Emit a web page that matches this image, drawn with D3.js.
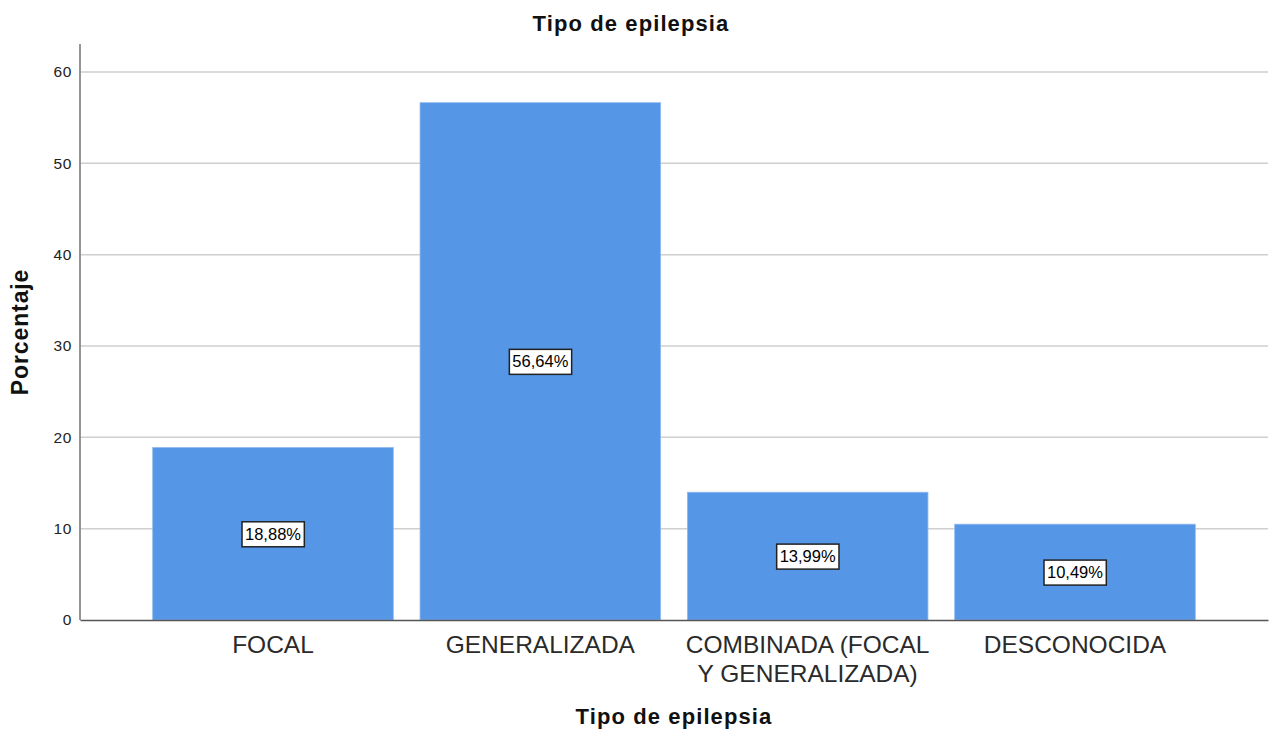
<!DOCTYPE html>
<html><head><meta charset="utf-8">
<script src="https://cdn.jsdelivr.net/npm/d3@7"></script>
<style>body{margin:0;background:#fff}svg{display:block}text{font-family:"Liberation Sans",Arial,sans-serif}</style>
</head><body><svg id="c" width="1269" height="731"></svg>
<script>
const categories = [["FOCAL"],["GENERALIZADA"],["COMBINADA (FOCAL","Y GENERALIZADA)"],["DESCONOCIDA"]];
const values = [18.88, 56.64, 13.99, 10.49];
const valueLabels = ["18,88%","56,64%","13,99%","10,49%"];
const yTicks = [0,10,20,30,40,50,60];
const title = "Tipo de epilepsia";
const xTitle = "Tipo de epilepsia";
const yTitle = "Porcentaje";

const svg = d3.select("#c");
const L = 80, R = 1268, T = 44, B = 620;
const y = d3.scaleLinear().domain([0,60]).range([B,72]);
const x = d3.scaleBand().domain(d3.range(categories.length)).range([L,R]).paddingInner(0.1).paddingOuter(0.272);

// gridlines
svg.append("g").selectAll("line").data(yTicks.filter(d=>d>0)).join("line")
  .attr("x1",L).attr("x2",R).attr("y1",d=>y(d)).attr("y2",d=>y(d))
  .attr("stroke","#cfcfcf").attr("stroke-width",1.5);

// bars
svg.append("g").selectAll("rect").data(values).join("rect")
  .attr("x",(d,i)=>x(i)).attr("width",x.bandwidth())
  .attr("y",d=>y(d)).attr("height",d=>B-y(d))
  .attr("fill","#5596e6").attr("stroke","#8fb8ee").attr("stroke-width",0.8);

// y axis
const ya = d3.axisLeft(y).tickValues(yTicks).tickSize(0).tickPadding(8).tickFormat(d3.format("d"));
const yg = svg.append("g").attr("transform",`translate(${L},0)`).call(ya);
yg.select(".domain").remove();
yg.selectAll("text").attr("font-size",15.5).attr("fill","#222").attr("letter-spacing",0.6);
svg.append("line").attr("x1",L).attr("x2",L).attr("y1",T).attr("y2",B).attr("stroke","#8a8a8a").attr("stroke-width",1.8);

// x axis
const xa = d3.axisBottom(x).tickSize(0).tickFormat("");
const xg = svg.append("g").attr("transform",`translate(0,${B})`).call(xa);
xg.select(".domain").attr("stroke","#555").attr("stroke-width",1.5);
categories.forEach((lines,i)=>{
  lines.forEach((s,j)=>{
    svg.append("text").attr("x",x(i)+x.bandwidth()/2).attr("y",B+33+j*28.5)
      .attr("text-anchor","middle").attr("font-size",24.5).attr("fill","#2a2a2a").text(s);
  });
});

// value labels
values.forEach((v,i)=>{
  const cx = x(i)+x.bandwidth()/2, cy = y(v/2);
  const g = svg.append("g");
  const t = g.append("text").attr("x",cx).attr("y",cy+6).attr("text-anchor","middle")
    .attr("font-size",16.5).attr("fill","#000").text(valueLabels[i]);
  const bb = t.node().getBBox();
  g.insert("rect","text").attr("x",bb.x-3).attr("y",cy-12).attr("width",bb.width+6).attr("height",25)
    .attr("fill","#fff").attr("stroke","#222").attr("stroke-width",1.5);
});

// titles
svg.append("text").attr("x",631).attr("y",31).attr("text-anchor","middle")
  .attr("font-size",22).attr("letter-spacing",1.1).attr("font-weight","bold").attr("fill","#111").text(title);
svg.append("text").attr("x",(L+R)/2).attr("y",724).attr("text-anchor","middle")
  .attr("font-size",22).attr("letter-spacing",1.1).attr("font-weight","bold").attr("fill","#111").text(xTitle);
svg.append("text").attr("transform",`translate(28,${(T+B)/2}) rotate(-90)`).attr("text-anchor","middle")
  .attr("font-size",23).attr("letter-spacing",0.9).attr("font-weight","bold").attr("fill","#111").text(yTitle);
</script></body></html>
